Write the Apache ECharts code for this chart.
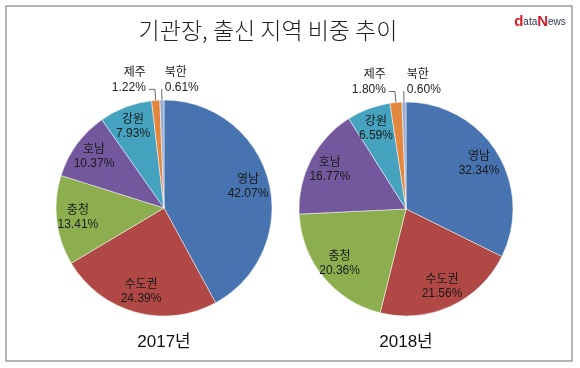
<!DOCTYPE html>
<html><head><meta charset="utf-8">
<script src="https://cdn.jsdelivr.net/npm/echarts@6/dist/echarts.min.js"></script>
<style>html,body{margin:0;padding:0;background:#fff}#c{width:580px;height:368px}</style>
</head><body><div id="c"></div>
<script>
const regions = ['영남','수도권','충청','호남','강원','제주','북한'];
const values2017 = [42.07,24.39,13.41,10.37,7.93,1.22,0.61];
const values2018 = [32.34,21.56,20.36,16.77,6.59,1.80,0.60];
const years = ['2017년','2018년'];
const titleText = '기관장, 출신 지역 비중 추이';
const smallRegions = ['제주','북한'];
const colors = ['#4774B0','#B04845','#8CAE4F','#74589E','#45A3C0','#E3873F','#98ADD4'];

const FONT = '"Liberation Sans", Arial, "Noto Sans CJK KR", sans-serif';
const KFONT = '"Noto Sans CJK KR", sans-serif';

function fmtLabel(p){ return p.name + '\n' + Number(p.value).toFixed(2) + '%'; }

const pies = [
  {values: values2017, center:[164,208], radius:108},
  {values: values2018, center:[406,209], radius:107}
];

const series = [];
pies.forEach((pie, k) => {
  series.push({
    type:'pie', clockwise:true, startAngle:90,
    center: pie.center, radius: pie.radius,
    avoidLabelOverlap:false, silent:true,
    itemStyle:{borderColor:'rgba(255,255,255,0.6)', borderWidth:0.8},
    label:{show:true, position:'outside', formatter: fmtLabel, fontFamily: FONT,
           fontSize:12, lineHeight:15, color:'#222', distanceToLabelLine:3},
    labelLine:{show:true, length:11, length2:6, lineStyle:{color:'#666', width:1}},
    labelLayout: function(params){
      const pts = params.labelLinePoints;
      if(!pts) return {};
      const name = regions[params.dataIndex];
      if(name === '북한'){
        const p0 = pts[0], p1 = pts[1];
        return {x: p1[0] + 3, y: p1[1] - 9, align:'left', verticalAlign:'middle',
                labelLinePoints:[p0, p1, p1]};
      }
      return {y: pts[2][1] - 9, verticalAlign:'middle', labelLinePoints: pts};
    },
    data: regions.map((n,i)=>({
      name:n, value: pie.values[i], itemStyle:{color: colors[i]},
      label:{show: smallRegions.includes(n)},
      labelLine:{show: smallRegions.includes(n)}
    }))
  });
  series.push({
    type:'pie', clockwise:true, startAngle:90, silent:true,
    center: pie.center, radius: [pie.radius*0.55, pie.radius],
    avoidLabelOverlap:false,
    itemStyle:{color:'rgba(0,0,0,0)', borderWidth:0},
    label:{show:true, position:'inside', formatter: fmtLabel, fontFamily: FONT,
           fontSize:12, lineHeight:14, color:'#1a1a1a'},
    labelLine:{show:false},
    data: regions.map((n,i)=>({
      name:n, value: pie.values[i],
      label:{show: !smallRegions.includes(n)}
    }))
  });
});

const graphic = [
  {type:'rect', shape:{x:6, y:6, width:566, height:355},
   style:{fill:'none', stroke:'#9c9c9c', lineWidth:1.5}},
  {type:'text', x:268, y:30,
   style:{text:titleText, font:'300 23px ' + KFONT, fill:'#222', align:'center', verticalAlign:'middle'}},
  {type:'text', x:540, y:22,
   style:{text:'{r|d}{k|ata}{r|N}{k|ews}', align:'center', verticalAlign:'middle',
     rich:{r:{fill:'#d0202a', fontSize:15, fontWeight:'bold', fontFamily:FONT},
           k:{fill:'#2b3550', fontSize:10, fontFamily:FONT}}}}
];
pies.forEach((pie,k)=>{
  graphic.push({type:'text', x: pie.center[0], y: 342,
    style:{text: years[k], font:'normal 17px ' + FONT, fill:'#111', align:'center', verticalAlign:'middle'}});
});

const chart = echarts.init(document.getElementById('c'), null, {renderer:'canvas'});
chart.setOption({
  backgroundColor:'#fff',
  animation:false,
  series: series,
  graphic: graphic
});
</script></body></html>
